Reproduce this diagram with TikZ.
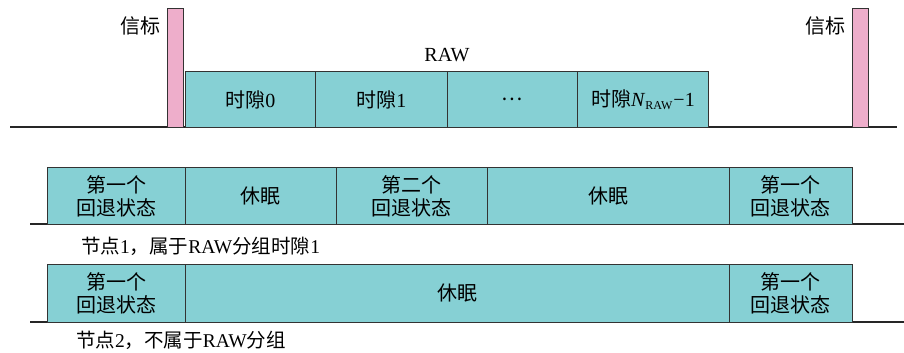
\documentclass[tikz,border=0pt]{standalone}
\usepackage{fontspec}
\setmainfont{Liberation Serif}
\newfontfamily\cjk{Noto Sans CJK SC}
\definecolor{slotfill}{HTML}{86D0D4}
\definecolor{beaconfill}{HTML}{EEAECB}
\definecolor{edge}{HTML}{333333}
\begin{document}
\begin{tikzpicture}[x=1pt,y=-1pt,
  box/.style={draw=edge,line width=0.9pt,fill=slotfill,anchor=north west,inner sep=0pt,
    align=center,font=\fontsize{20}{23}\selectfont,text=black},
  beacon/.style={draw=edge,line width=0.9pt,fill=beaconfill,anchor=north west,inner sep=0pt,
    minimum width=16pt,minimum height=119pt},
  lbl/.style={inner sep=0pt,font=\fontsize{20}{23}\selectfont,text=black},
  base/.style={draw=black!85,line width=1.2pt}]
\useasboundingbox (0,0) rectangle (904,353);
% top row
\coordinate (b1l) at (10,127);
\coordinate (b1r) at (897,127);
\draw[base] (b1l) -- (b1r);
\node[beacon] (bc1) at (167,8) {};
\node[beacon] (bc2) at (852,8) {};
\node[lbl,anchor=east] (bt1) at (161,26) {\cjk 信标};
\node[lbl,anchor=east] (bt2) at (846,26) {\cjk 信标};
\node[box,minimum width=130pt,minimum height=56pt] (s0) at (185,71) {{\cjk 时隙}0};
\node[box,minimum width=132pt,minimum height=56pt] (s1) at (315,71) {{\cjk 时隙}1};
\node[box,minimum width=130pt,minimum height=56pt] (s2) at (447,71) {{\cjk ⋯}};
\node[box,minimum width=131pt,minimum height=56pt] (s3) at (577,71) {{\cjk 时隙}\textit{N}\raisebox{-0.35ex}{\fontsize{12}{12}\selectfont RAW}\kern1pt−1};
\node[lbl] (raw) at (447,55) {RAW};
% row 2
\coordinate (b2l) at (30,224);
\coordinate (b2r) at (904,224);
\draw[base] (b2l) -- (b2r);
\node[box,minimum width=138pt,minimum height=57pt] (r1) at (47,167) {{\cjk 第一个}\\{\cjk 回退状态}};
\node[box,minimum width=151pt,minimum height=57pt] (r2) at (185,167) {{\cjk 休眠}};
\node[box,minimum width=151pt,minimum height=57pt] (r3) at (336,167) {{\cjk 第二个}\\{\cjk 回退状态}};
\node[box,minimum width=242pt,minimum height=57pt] (r4) at (487,167) {{\cjk 休眠}};
\node[box,minimum width=123pt,minimum height=57pt] (r5) at (729,167) {{\cjk 第一个}\\{\cjk 回退状态}};
\node[lbl,anchor=west,font=\fontsize{19.5}{22}\selectfont] (n1) at (81,246) {{\cjk 节点}1{\cjk ，属于}RAW{\cjk 分组时隙}1};
% row 3
\coordinate (b3l) at (30,322);
\coordinate (b3r) at (904,322);
\draw[base] (b3l) -- (b3r);
\node[box,minimum width=138pt,minimum height=58pt] (q1) at (47,264) {{\cjk 第一个}\\{\cjk 回退状态}};
\node[box,minimum width=544pt,minimum height=58pt] (q2) at (185,264) {{\cjk 休眠}};
\node[box,minimum width=123pt,minimum height=58pt] (q3) at (729,264) {{\cjk 第一个}\\{\cjk 回退状态}};
\node[lbl,anchor=west,font=\fontsize{19.5}{22}\selectfont] (n2) at (76,340) {{\cjk 节点}2{\cjk ，不属于}RAW{\cjk 分组}};
\end{tikzpicture}
\end{document}
